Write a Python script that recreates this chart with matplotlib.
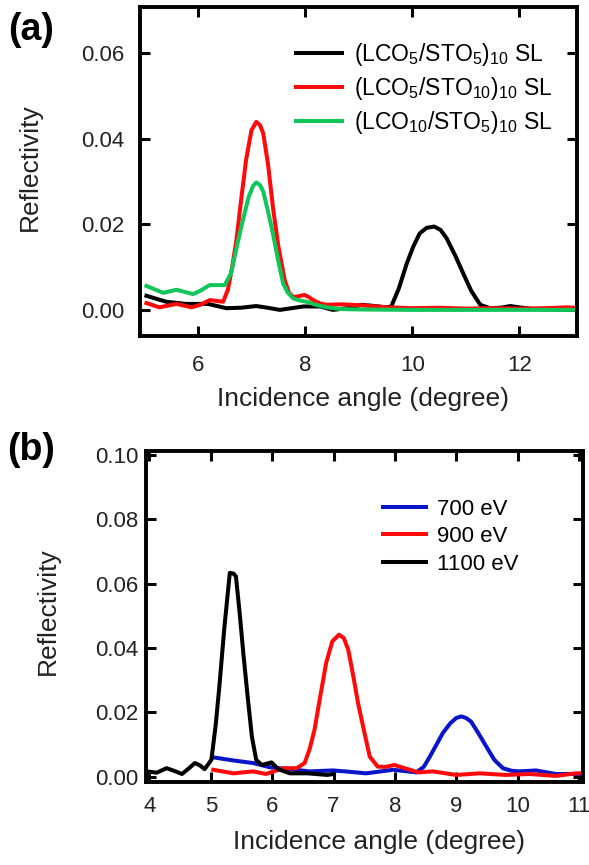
import matplotlib
matplotlib.use("Agg")
import matplotlib.pyplot as plt

plt.rcParams['font.family'] = ['Liberation Sans', 'DejaVu Sans']
plt.rcParams['mathtext.fontset'] = 'custom'
plt.rcParams['mathtext.rm'] = 'Liberation Sans'
plt.rcParams['mathtext.it'] = 'Liberation Sans'
plt.rcParams['mathtext.bf'] = 'Liberation Sans:bold'

# ---------------- Panel (a) data ----------------
a_black_x = [5.04, 5.41, 5.78, 6.19, 6.53, 6.8, 7.09, 7.3, 7.53, 7.75, 7.97, 8.28, 8.52, 8.8, 9.05,
             9.3, 9.52, 9.61, 9.75, 9.9, 10.02, 10.14, 10.27, 10.41, 10.53, 10.64, 10.8, 10.95,
             11.1, 11.27, 11.45, 11.65, 11.83, 12.05, 12.26, 12.6, 13.0]
a_black_y = [0.0033, 0.0019, 0.0014, 0.0014, 0.0004, 0.0005, 0.0009, 0.0005, 0.0000, 0.0004, 0.0008,
             0.0008, 0.0000, 0.0004, 0.0012, 0.0009, 0.0006, 0.0008, 0.0050, 0.0109, 0.0148, 0.0179,
             0.0192, 0.0195, 0.0187, 0.0168, 0.0128, 0.0086, 0.0045, 0.0012, 0.0004, 0.0005, 0.0009,
             0.0005, 0.0002, 0.0001, 0.0000]

a_red_x = [5.04, 5.28, 5.6, 5.88, 6.05, 6.22, 6.35, 6.47, 6.56, 6.64, 6.72, 6.81, 6.9, 7.0, 7.09,
           7.16, 7.22, 7.31, 7.4, 7.5, 7.62, 7.7, 7.78, 7.88, 7.99, 8.07, 8.15, 8.28, 8.4, 8.7,
           9.15, 9.52, 10.0, 10.5, 11.0, 11.5, 12.0, 12.5, 12.89, 13.0]
a_red_y = [0.0016, 0.0006, 0.0014, 0.0006, 0.0012, 0.0023, 0.0021, 0.0019, 0.0047, 0.0100, 0.0164,
           0.0260, 0.0351, 0.0420, 0.0440, 0.0432, 0.0413, 0.0340, 0.0241, 0.0150, 0.0070, 0.0040,
           0.0030, 0.0032, 0.0035, 0.0030, 0.0023, 0.0015, 0.0012, 0.0013, 0.0010, 0.0006, 0.0004,
           0.0005, 0.0003, 0.0004, 0.0003, 0.0004, 0.0006, 0.0005]

a_green_x = [5.04, 5.35, 5.6, 5.91, 6.05, 6.22, 6.5, 6.62, 6.73, 6.84, 6.95, 7.03, 7.09, 7.16, 7.22,
             7.31, 7.4, 7.5, 7.59, 7.68, 7.78, 7.9, 8.03, 8.2, 8.4, 8.65, 9.0, 10.0, 11.0, 12.0, 13.0]
a_green_y = [0.0056, 0.0040, 0.0047, 0.0037, 0.0045, 0.0058, 0.0058, 0.0086, 0.0150, 0.0210, 0.0265,
             0.0290, 0.0298, 0.0292, 0.0277, 0.0230, 0.0179, 0.0115, 0.0062, 0.0040, 0.0027, 0.0022,
             0.0019, 0.0012, 0.0006, 0.0002, 0.0001, 0.0000, 0.0000, 0.0000, 0.0000]

a_labels = [r'(LCO$_\mathregular{5}$/STO$_\mathregular{5}$)$_\mathregular{10}$ SL',
            r'(LCO$_\mathregular{5}$/STO$_\mathregular{10}$)$_\mathregular{10}$ SL',
            r'(LCO$_\mathregular{10}$/STO$_\mathregular{5}$)$_\mathregular{10}$ SL']

# ---------------- Panel (b) data ----------------
b_blue_x = [5.03, 5.37, 5.69, 5.96, 6.29, 6.61, 6.99, 7.25, 7.53, 7.97, 8.35, 8.47, 8.57, 8.68, 8.78,
            8.9, 9.0, 9.08, 9.16, 9.24, 9.36, 9.49, 9.62, 9.76, 9.9, 10.03, 10.3, 10.62, 10.95, 11.0]
b_blue_y = [0.0060, 0.0050, 0.0042, 0.0029, 0.0023, 0.0016, 0.0019, 0.0015, 0.0010, 0.0021, 0.0013,
            0.0030, 0.0062, 0.0100, 0.0135, 0.0165, 0.0182, 0.0187, 0.0182, 0.0171, 0.0135, 0.0093,
            0.0052, 0.0026, 0.0018, 0.0016, 0.0019, 0.0008, 0.0008, 0.0008]

b_red_x = [5.04, 5.37, 5.69, 5.9, 6.18, 6.4, 6.53, 6.61, 6.69, 6.78, 6.88, 6.98, 7.09, 7.17, 7.24,
           7.32, 7.4, 7.5, 7.59, 7.72, 7.85, 7.99, 8.16, 8.38, 8.62, 9.0, 9.38, 9.81, 10.19, 10.62,
           10.95, 11.0]
b_red_y = [0.0021, 0.0010, 0.0016, 0.0008, 0.0026, 0.0026, 0.0042, 0.0085, 0.0145, 0.0245, 0.0353,
           0.0420, 0.0441, 0.0430, 0.0394, 0.0315, 0.0228, 0.0140, 0.0062, 0.0031, 0.0030, 0.0036,
           0.0026, 0.0013, 0.0016, 0.0005, 0.0010, 0.0005, 0.0008, 0.0002, 0.0010, 0.0010]

b_black_x = [3.96, 4.12, 4.28, 4.4, 4.53, 4.64, 4.74, 4.82, 4.9, 5.01, 5.08, 5.14, 5.22, 5.31, 5.37,
             5.41, 5.47, 5.53, 5.6, 5.67, 5.74, 5.83, 5.99, 6.1, 6.29, 6.58, 6.9, 7.0]
b_black_y = [0.0016, 0.0012, 0.0026, 0.0018, 0.0008, 0.0025, 0.0042, 0.0035, 0.0023, 0.0052, 0.0160,
             0.0280, 0.0460, 0.0633, 0.0631, 0.0622, 0.0510, 0.0384, 0.0250, 0.0124, 0.0052, 0.0036,
             0.0044, 0.0023, 0.0010, 0.0010, 0.0005, 0.0008]

b_labels = ['700 eV', '900 eV', '1100 eV']

a_xticks = [6, 8, 10, 12]
a_yticks = [0.00, 0.02, 0.04, 0.06]
b_xticks = [4, 5, 6, 7, 8, 9, 10, 11]
b_yticks = [0.00, 0.02, 0.04, 0.06, 0.08, 0.10]

GREEN = '#10c65a'
RED = '#ff0a0a'
BLUE = '#0a14c8'
LW = 2.9

fig = plt.figure(figsize=(5.89, 8.65), dpi=100)
axa = fig.add_axes([0.2377, 0.6121, 0.9791 - 0.2377, 0.9916 - 0.6121])
axb = fig.add_axes([0.2474, 0.0963, 0.9903 - 0.2474, 0.4790 - 0.0963])

def style(ax, xpad, ypad):
    for s in ax.spines.values():
        s.set_linewidth(2.8)
    ax.tick_params(which='major', direction='in', top=True, right=True, length=7, width=2.2,
                   labelsize=16, color='black', labelcolor='#222222')
    ax.tick_params(axis='x', pad=xpad)
    ax.tick_params(axis='y', pad=ypad)

axa.plot(a_black_x, a_black_y, color='black', lw=LW, label=a_labels[0], solid_joinstyle='round')
axa.plot(a_red_x, a_red_y, color=RED, lw=LW, label=a_labels[1], solid_joinstyle='round')
axa.plot(a_green_x, a_green_y, color=GREEN, lw=LW, label=a_labels[2], solid_joinstyle='round')
axa.set_xlim(4.92, 13.07)
axa.set_ylim(-0.006, 0.0708)
axa.set_xticks(a_xticks)
axa.set_yticks(a_yticks)
axa.set_yticklabels(['%.2f' % v for v in a_yticks])
style(axa, 14, 11)
axa.set_xlabel('Incidence angle (degree)', fontsize=19, color='#222222')
axa.set_ylabel('Reflectivity', fontsize=19, color='#222222')
axa.xaxis.set_label_coords(0.511, -0.158)
axa.yaxis.set_label_coords(-0.225, 0.513)
axa.legend(loc='center left', bbox_to_anchor=(0.357, 0.752), frameon=False, fontsize=16.5,
           borderpad=0, borderaxespad=0, handlelength=2.0, handletextpad=0.55, labelspacing=0.3)

axb.plot(b_blue_x, b_blue_y, color=BLUE, lw=LW, label=b_labels[0], solid_joinstyle='round')
axb.plot(b_red_x, b_red_y, color=RED, lw=LW, label=b_labels[1], solid_joinstyle='round')
axb.plot(b_black_x, b_black_y, color='black', lw=LW, label=b_labels[2], solid_joinstyle='round')
axb.set_xlim(3.94, 11.07)
axb.set_ylim(-0.0016, 0.1013)
axb.set_xticks(b_xticks)
axb.set_yticks(b_yticks)
axb.set_yticklabels(['%.2f' % v for v in b_yticks])
style(axb, 10, 5.5)
axb.set_xlabel('Incidence angle (degree)', fontsize=19, color='#222222')
axb.set_ylabel('Reflectivity', fontsize=19, color='#222222')
axb.xaxis.set_label_coords(0.533, -0.145)
axb.yaxis.set_label_coords(-0.196, 0.514)
axb.legend(loc='center left', bbox_to_anchor=(0.5416, 0.740), frameon=False, fontsize=16,
           borderpad=0, borderaxespad=0, handlelength=1.95, handletextpad=0.5, labelspacing=0.3)

fig.text(8 / 589, 1 - 12 / 865, '(a)', fontsize=27, fontweight='bold', ha='left', va='top')
fig.text(7 / 589, 1 - 432 / 865, '(b)', fontsize=27, fontweight='bold', ha='left', va='top')

fig.savefig('out.png', dpi=100)
